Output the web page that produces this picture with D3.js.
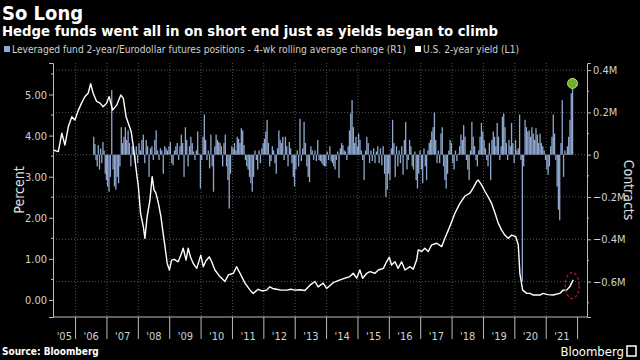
<!DOCTYPE html>
<html lang="en">
<head>
<meta charset="UTF-8" />
<title>So Long</title>
<script src="https://d3js.org/d3.v7.min.js"></script>
<style>
  body { margin: 0; background: #000; }
  svg { display: block; background: #000; }
  text { font-family: "DejaVu Sans Condensed", "DejaVu Sans", sans-serif; }
  .grid line { stroke: #555; stroke-dasharray: 1,2; stroke-width: 1; }
  .tick-label { fill: #d0d0d0; font-size: 11px; }
</style>
</head>
<body>
<svg width="640" height="360"></svg>
<script>
// U.S. 2-year yield (L1), [decimal year, percent]
const yieldYears = [2005.29,2005.45,2005.56,2005.66,2005.77,2005.88,2005.98,2006.09,2006.19,2006.30,2006.40,2006.48,2006.56,2006.67,2006.78,2006.88,2006.99,2007.07,2007.18,2007.31,2007.44,2007.52,2007.61,2007.68,2007.77,2007.84,2007.92,2008.00,2008.07,2008.16,2008.21,2008.28,2008.37,2008.44,2008.50,2008.56,2008.64,2008.72,2008.79,2008.85,2008.92,2008.99,2009.06,2009.14,2009.22,2009.27,2009.36,2009.43,2009.52,2009.59,2009.66,2009.75,2009.86,2009.99,2010.07,2010.15,2010.26,2010.34,2010.44,2010.60,2010.76,2010.87,2011.03,2011.13,2011.24,2011.40,2011.56,2011.66,2011.82,2011.94,2012.09,2012.19,2012.28,2012.41,2012.55,2012.73,2012.86,2012.99,2013.15,2013.31,2013.47,2013.63,2013.73,2013.89,2014.00,2014.21,2014.43,2014.59,2014.74,2014.85,2014.96,2015.06,2015.15,2015.28,2015.38,2015.54,2015.65,2015.81,2015.91,2016.00,2016.07,2016.18,2016.28,2016.39,2016.50,2016.66,2016.76,2016.87,2016.92,2017.03,2017.13,2017.24,2017.35,2017.51,2017.67,2017.77,2017.88,2017.99,2018.09,2018.25,2018.41,2018.57,2018.67,2018.78,2018.83,2018.94,2019.05,2019.15,2019.26,2019.37,2019.47,2019.58,2019.68,2019.79,2019.90,2020.03,2020.11,2020.16,2020.25,2020.38,2020.48,2020.59,2020.80,2020.90,2021.05,2021.22,2021.43,2021.54,2021.65,2021.75,2021.86];
const yieldValues = [3.65,3.61,4.06,3.77,4.22,4.46,4.38,4.62,4.79,4.95,5.03,5.26,5.03,4.83,4.79,4.70,4.79,4.95,4.62,4.74,4.99,4.91,4.46,4.30,4.10,3.73,3.24,2.76,2.11,1.78,1.50,2.03,2.43,3.00,2.68,2.60,2.35,2.03,1.62,1.30,0.89,0.73,0.97,0.99,0.95,0.93,1.10,1.26,0.97,1.26,1.05,0.89,0.77,1.09,0.81,0.95,1.05,0.93,0.73,0.57,0.45,0.61,0.65,0.81,0.65,0.41,0.24,0.16,0.26,0.22,0.24,0.32,0.28,0.26,0.24,0.24,0.26,0.24,0.25,0.23,0.36,0.45,0.32,0.41,0.28,0.42,0.49,0.53,0.57,0.65,0.53,0.73,0.53,0.65,0.69,0.65,0.73,0.77,0.93,1.04,0.85,0.93,0.77,0.93,0.73,0.81,0.75,0.97,1.22,1.18,1.26,1.18,1.34,1.38,1.30,1.50,1.70,1.91,2.11,2.35,2.53,2.60,2.72,2.88,2.92,2.80,2.64,2.51,2.35,2.11,1.87,1.70,1.58,1.50,1.58,1.54,1.34,0.65,0.24,0.16,0.16,0.12,0.12,0.16,0.13,0.12,0.16,0.24,0.24,0.32,0.49];

// Leveraged fund 2-year/Eurodollar positions, 4-wk avg change (R1), thousands of contracts, per year
const pos2006 = [85,50,-25,-55,45,-70,30,-40,60,20,-90,-120];
const pos2007 = [-150,-175,-105,306,-70,-150,-165,-105,-135,-55,130,55,85,130,70,115,55,-55,40,20,-25,40,-40];
const pos2008 = [55,20,70,95,-40,70,40,-105,30,40,-25,70,115,20,-25,30,20,-90,40,30,20,40];
const pos2009 = [60,-40,-50,20,40,55,-25,40,95,55,-105,130,70,-55,40,85,55,15,-25,20,110,5,-160];
const pos2010 = [-25,85,190,70,-25,20,-65,95,-55,-175,40,95,70,60,55,40,-55,55,95,-55,-120,-255,-90,40];
const pos2011 = [30,55,20,85,75,55,125,115,45,-25,-55,-70,-105,-135,-175,-105,20,-25,-70,20,-40,30,55];
const pos2012 = [75,110,165,55,-55,-30,40,20,-40,-90,30,115,70,55,85,-25,85,40,-55,60,30,-40,-105,-150];
const pos2013 = [-70,20,-55,170,-30,30,155,55,-55,-105,-130,40,20,-25,20,-30,70,-25,-30,-40,-50,-55,-55];
const pos2014 = [15,-25,40,-30,-40,-55,-70,-25,15,-110,30,55,45,20,15,-25,40,115,195,258,130,55,85,40];
const pos2015 = [100,70,20,-25,-120,20,85,55,-40,20,-30,30,-40,15,40,-40,30,-50,40,-90,-200,-165,-90];
const pos2016 = [-120,30,165,55,-105,40,-55,20,-40,40,-95,70,155,-70,-25,70,40,-55,-70,15,-120,-160,-90,20];
const pos2017 = [-70,-135,30,-55,-120,20,55,70,110,130,200,70,-40,20,-40,100,130,-55,-120,-160,-90,20,70,55];
const pos2018 = [-40,-70,20,-30,5,40,95,70,140,85,-25,-70,-120,20,155,85,40,-25,-55,20,85,150,110];
const pos2019 = [70,30,-25,-55,55,-120,70,110,85,40,150,85,-25,40,180,195,130,55,-25,70,40,150,55,-40];
const pos2020 = [70,20,30,190,-25,-600,-55,165,130,110,115,85,130,100,70,125,95,55,100,55,40,20,-25];
const pos2021 = [-70,-95,-55,40,85,190,100,-25,-150,-260,-310,55,258,-105,20,5,40,85,165,290,337];
const posYears = [2006,2007,2008,2009,2010,2011,2012,2013,2014,2015,2016,2017,2018,2019,2020,2021];
const posSeries = [pos2006,pos2007,pos2008,pos2009,pos2010,pos2011,pos2012,pos2013,pos2014,pos2015,pos2016,pos2017,pos2018,pos2019,pos2020,pos2021];
const posFirst = 2006.56, posLast = 2021.86;

const yearLabels = ["'05","'06","'07","'08","'09","'10","'11","'12","'13","'14","'15","'16","'17","'18","'19","'20","'21"];
const leftTicks = [0, 1, 2, 3, 4, 5];
const rightTicks = [-600, -400, -200, 0, 200, 400];

const svg = d3.select("svg");
const L = 53, R = 587, T = 63, B = 317;

const x = d3.scaleLinear().domain([2005.28, 2022.3]).range([L, R]);
const yL = d3.scaleLinear().domain([-0.414, 5.766]).range([B, T]);
const yR = d3.scaleLinear().domain([-767.4, 433.6]).range([B, T]);

// flatten bars, spreading each year's values across its span
const bars = [];
posSeries.forEach((vals, k) => {
  const y0 = posYears[k];
  const a = Math.max(y0, posFirst), b = Math.min(y0 + 1, posLast);
  vals.forEach((v, i) => bars.push({ t: a + (i + 0.5) * (b - a) / vals.length, v }));
});

// grid
const grid = svg.append("g").attr("class", "grid");
grid.selectAll("line.h").data(rightTicks).join("line")
  .attr("x1", L).attr("x2", R).attr("y1", d => yR(d)).attr("y2", d => yR(d));
grid.selectAll("line.v").data(d3.range(2006, 2022)).join("line")
  .attr("x1", d => x(d)).attr("x2", d => x(d)).attr("y1", T).attr("y2", B);

// bars
svg.append("g").selectAll("rect").data(bars).join("rect")
  .attr("x", d => x(d.t) - 0.65)
  .attr("width", 1.3)
  .attr("y", d => yR(Math.max(0, d.v)))
  .attr("height", d => Math.abs(yR(d.v) - yR(0)))
  .attr("fill", "#8fa8d0");

// yield line
const line = d3.line().x((d, i) => x(yieldYears[i])).y(d => yL(d));
svg.append("path").datum(yieldValues)
  .attr("fill", "none").attr("stroke", "#fff").attr("stroke-width", 1.4)
  .attr("stroke-linejoin", "round")
  .attr("d", line);

// annotations: latest bar and latest yield
const lastBar = bars[bars.length - 1];
svg.append("circle").attr("cx", x(lastBar.t)).attr("cy", yR(lastBar.v)).attr("r", 5)
  .attr("fill", "#6fae2f").attr("stroke", "#b5dc70").attr("stroke-width", 1);
svg.append("ellipse")
  .attr("cx", x(yieldYears[yieldYears.length - 1]) - 1).attr("cy", yL(0.35))
  .attr("rx", 7).attr("ry", 13)
  .attr("fill", "none").attr("stroke", "#b0202a").attr("stroke-width", 1.2)
  .attr("stroke-dasharray", "3,2");

// axes
const axisColor = "#bbb";
const leftAxis = svg.append("g").attr("transform", `translate(${L},0)`)
  .call(d3.axisLeft(yL).tickValues(leftTicks).tickFormat(d3.format(".2f")).tickSize(4).tickPadding(2));
const rightAxis = svg.append("g").attr("transform", `translate(${R},0)`)
  .call(d3.axisRight(yR).tickValues(rightTicks)
    .tickFormat(d => d === 0 ? "0" : d3.format(".1f")(d / 1000) + "M").tickSize(4).tickPadding(2));
[leftAxis, rightAxis].forEach(g => {
  g.select(".domain").attr("stroke", axisColor);
  g.selectAll(".tick line").attr("stroke", axisColor);
  g.selectAll(".tick text").attr("class", "tick-label").attr("fill", "#d0d0d0");
});
// minor ticks
svg.append("g").selectAll("line").data(leftTicks.map(d => d + 0.5)).join("line")
  .attr("x1", L - 2).attr("x2", L).attr("y1", d => yL(d)).attr("y2", d => yL(d)).attr("stroke", axisColor);
svg.append("g").selectAll("line").data([-700, -500, -300, -100, 100, 300]).join("line")
  .attr("x1", R).attr("x2", R + 2).attr("y1", d => yR(d)).attr("y2", d => yR(d)).attr("stroke", axisColor);

// x axis
svg.append("line").attr("x1", L).attr("x2", R).attr("y1", B).attr("y2", B).attr("stroke", axisColor);
svg.append("g").selectAll("line").data(d3.range(2006, 2023)).join("line")
  .attr("x1", d => x(d)).attr("x2", d => x(d)).attr("y1", B).attr("y2", B + 22).attr("stroke", axisColor);
svg.append("g").selectAll("text").data(yearLabels).join("text")
  .attr("class", "tick-label")
  .attr("x", (d, i) => {
    const a = Math.max(2005 + i, x.domain()[0]);
    return x((a + 2006 + i) / 2);
  })
  .attr("y", 340).attr("text-anchor", "middle").text(d => d);

// axis titles
svg.append("text").attr("transform", "translate(24,190) rotate(-90)")
  .attr("text-anchor", "middle").attr("fill", "#e0e0e0").attr("font-size", 14).text("Percent");
svg.append("text").attr("transform", "translate(624,190) rotate(90)")
  .attr("text-anchor", "middle").attr("fill", "#e0e0e0").attr("font-size", 14).text("Contracts");

// titles
svg.append("text").attr("x", 2).attr("y", 20).attr("fill", "#fff")
  .attr("font-size", 20).attr("font-weight", "bold").text("So Long");
svg.append("text").attr("x", 2).attr("y", 36).attr("fill", "#fff")
  .attr("font-size", 14).attr("font-weight", "bold")
  .attr("textLength", 496).attr("lengthAdjust", "spacingAndGlyphs")
  .text("Hedge funds went all in on short end just as yields began to climb");

// legend
svg.append("rect").attr("x", 4).attr("y", 46).attr("width", 6).attr("height", 6).attr("fill", "#8fa8d0");
svg.append("text").attr("x", 12).attr("y", 53).attr("fill", "#d0d0d0").attr("font-size", 10.5)
  .attr("textLength", 394).attr("lengthAdjust", "spacingAndGlyphs")
  .text("Leveraged fund 2-year/Eurodollar futures positions - 4-wk rolling average change (R1)");
svg.append("rect").attr("x", 415).attr("y", 46).attr("width", 6).attr("height", 6).attr("fill", "#fff");
svg.append("text").attr("x", 423).attr("y", 53).attr("fill", "#d0d0d0").attr("font-size", 10.5)
  .attr("textLength", 96).attr("lengthAdjust", "spacingAndGlyphs")
  .text("U.S. 2-year yield (L1)");

// footer
svg.append("text").attr("x", 2).attr("y", 355).attr("fill", "#fff")
  .attr("font-size", 10).attr("font-weight", "bold").text("Source: Bloomberg");
svg.append("text").attr("x", 624).attr("y", 356).attr("fill", "#fff")
  .attr("font-size", 13).attr("text-anchor", "end").text("Bloomberg");
svg.append("rect").attr("x", 627).attr("y", 346).attr("width", 9).attr("height", 10)
  .attr("fill", "none").attr("stroke", "#fff").attr("stroke-width", 1.5);
</script>
</body>
</html>
